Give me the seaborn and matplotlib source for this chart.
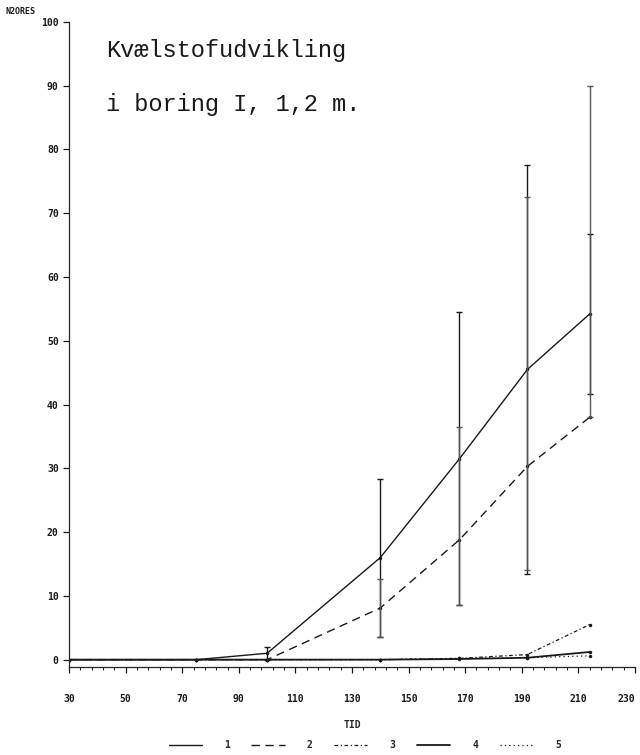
"""
Kvaelstofudvikling i boring I, 1,2 m. -- N2O over time, five series.
"""

import numpy as np
import pandas as pd
import matplotlib
matplotlib.use("Agg")
import matplotlib.pyplot as plt
import seaborn as sns
from matplotlib.ticker import AutoMinorLocator

# --- data ---
tid = [30, 75, 100, 140, 168, 192, 214]
serie_1 = [0, 0, 1.0, 16.0, 31.5, 45.5, 54.2]
serie_2 = [0, 0, 0, 8.1, 18.8, 30.3, 38.0]
serie_3 = [0, 0, 0, 0, 0.2, 0.8, 5.5]
serie_4 = [0, 0, 0, 0, 0.1, 0.3, 1.2]
serie_5 = [0, 0, 0, 0, 0.2, 0.3, 0.6]

# error bars
err_tid_1 = [100, 140, 168, 192, 214]
err_1 = [1.0, 12.4, 23.0, 32.0, 12.5]
err_tid_2 = [140, 168, 192, 214]
lo_2 = [3.6, 8.5, 14.0, 38.0]
hi_2 = [12.6, 36.5, 72.6, 90.0]

labels = ["1", "2", "3", "4", "5"]
x_ticks = [30, 50, 70, 90, 110, 130, 150, 170, 190, 210, 230]
y_ticks = [0, 10, 20, 30, 40, 50, 60, 70, 80, 90, 100]

df = pd.DataFrame({"TID": tid, "1": serie_1, "2": serie_2, "3": serie_3,
                   "4": serie_4, "5": serie_5})
long = df.melt(id_vars="TID", var_name="serie", value_name="N2ORES")

sns.set_style("ticks")
plt.rcParams["font.family"] = ["DejaVu Sans Mono", "DejaVu Sans"]

ink = "#1a1a1a"
dashes = {"1": "", "2": (6, 4), "3": (3, 2, 1, 2), "4": "", "5": (1, 2.5)}
widths = {"1": 1.0, "2": 1.0, "3": 0.9, "4": 1.3, "5": 0.9}

fig = plt.figure(figsize=(6.4, 7.55), dpi=100)
ax = fig.add_axes([0.108, 0.117, 0.884, 0.854])

sns.lineplot(data=long, x="TID", y="N2ORES", style="serie", dashes=dashes,
             color=ink, linewidth=1.0, marker="o", markersize=2.5,
             markeredgewidth=0, ax=ax, legend=False)
for line, key in zip(ax.get_lines(), labels):
    line.set_linewidth(widths[key])

# error bars: series 1 symmetric, series 2 explicit bounds
ax.errorbar(err_tid_1, [serie_1[tid.index(t)] for t in err_tid_1], yerr=err_1,
            fmt="none", ecolor=ink, elinewidth=1.0, capsize=2.5, capthick=1.0)
m2 = np.array([serie_2[tid.index(t)] for t in err_tid_2])
ax.errorbar(err_tid_2, m2, yerr=[m2 - np.array(lo_2), np.array(hi_2) - m2],
            fmt="none", ecolor="#555555", elinewidth=1.0, capsize=2.0,
            linestyle=(0, (2, 3)))

ax.set_xlim(30, 230)
ax.set_ylim(-1.1, 100)
ax.set_xticks(x_ticks)
ax.set_xticklabels([str(v) for v in x_ticks])
ax.set_yticks(y_ticks)
ax.xaxis.set_minor_locator(AutoMinorLocator(5))
ax.tick_params(axis="both", which="major", direction="out", length=4,
               width=0.9, colors=ink, labelsize=7)
ax.tick_params(axis="x", which="major", pad=16)
ax.tick_params(axis="x", which="minor", direction="out", length=2, width=0.8)
for lab in ax.get_xticklabels() + ax.get_yticklabels():
    lab.set_fontweight("bold")
# last label sits at the page edge; keep it inside
ax.get_xticklabels()[-1].set_horizontalalignment("right")
ax.set_xlabel("TID", fontsize=7, fontweight="bold", labelpad=11)
ax.set_ylabel("")
sns.despine(ax=ax, top=True, right=True)
ax.spines["left"].set_linewidth(0.9)
ax.spines["bottom"].set_linewidth(0.9)

fig.text(0.008, 0.982, "N2ORES", fontsize=6, fontweight="bold", color=ink)

ax.text(43, 95.5, "Kvælstofudvikling", fontsize=17, color=ink,
        family=["Liberation Mono", "DejaVu Sans Mono"], va="center")
ax.text(43, 87.0, "i boring I, 1,2 m.", fontsize=17, color=ink,
        family=["Liberation Mono", "DejaVu Sans Mono"], va="center")

handles = [plt.Line2D([], [], color=ink, linewidth=widths[k],
                      linestyle=(0, dashes[k]) if dashes[k] else "-")
           for k in labels]
fig.legend(handles, labels, loc="lower center", bbox_to_anchor=(0.57, -0.005),
           ncol=5, frameon=False, handlelength=3.4, handletextpad=2.3,
           columnspacing=2.2, prop={"size": 7, "weight": "bold"})

fig.savefig("out.png", dpi=100)
